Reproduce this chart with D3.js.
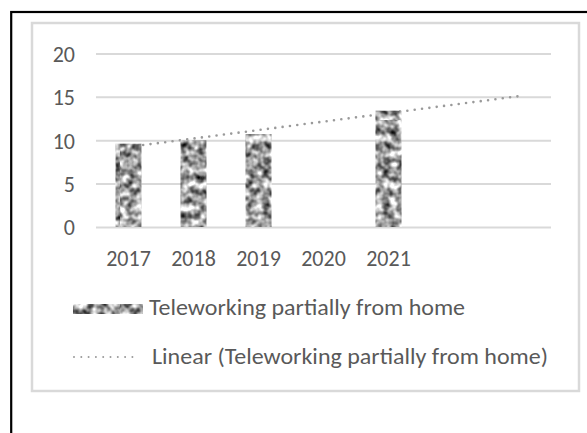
<!DOCTYPE html>
<html>
<head>
<meta charset="utf-8">
<script src="https://cdn.jsdelivr.net/npm/d3@7"></script>
<style>
  html, body { margin: 0; padding: 0; background: #fff; }
  svg { display: block; }
  text { font-family: Carlito, Lato, "Open Sans", sans-serif; fill: #595959; }
</style>
</head>
<body>
<svg id="chart" width="587" height="433"></svg>
<script>
// ---- data ----
const categories = ["2017", "2018", "2019", "2020", "2021"];
const values = [9.6, 10.0, 10.7, null, 13.4];
const forecastLabels = ["+1", "+2"];          // trendline forward forecast: 2 periods (no labels)
const yTicks = [0, 5, 10, 15, 20];
const seriesName = "Teleworking partially from home";
const trendName = "Linear (Teleworking partially from home)";

// ---- layout ----
const svg = d3.select("#chart");
const plot = { left: 96, right: 551, top: 53.4, bottom: 227 };
const fontSize = 22;

const defs = svg.append("defs");
const filt = defs.append("filter").attr("id", "noise")
  .attr("x", 0).attr("y", 0).attr("width", 1).attr("height", 1)
  .attr("color-interpolation-filters", "sRGB");
filt.append("feTurbulence").attr("type", "fractalNoise")
  .attr("baseFrequency", 0.13).attr("numOctaves", 2).attr("seed", 5).attr("result", "t");
filt.append("feColorMatrix").attr("in", "t").attr("type", "matrix")
  .attr("values", "1.6 0 0 0 -0.18  1.6 0 0 0 -0.18  1.6 0 0 0 -0.18  0 0 0 0 1");
const pat = defs.append("pattern").attr("id", "tex")
  .attr("patternUnits", "userSpaceOnUse").attr("width", 120).attr("height", 120);
pat.append("rect").attr("width", 120).attr("height", 120).attr("fill", "#aaa")
  .attr("filter", "url(#noise)");

// outer black frame (continues past right and bottom edges)
svg.append("rect").attr("x", 11.2).attr("y", 12).attr("width", 700).attr("height", 600)
  .attr("fill", "none").attr("stroke", "#000").attr("stroke-width", 2.2);

// chart area border
svg.append("rect").attr("x", 32).attr("y", 23).attr("width", 547).attr("height", 368)
  .attr("fill", "#fff").attr("stroke", "#d9d9d9").attr("stroke-width", 2.5);

// scales
const x = d3.scaleBand()
  .domain(categories.concat(forecastLabels))
  .range([plot.left, plot.right])
  .paddingInner(0.6).paddingOuter(0.3);
const y = d3.scaleLinear().domain([0, 20]).range([plot.bottom, plot.top]);

// gridlines + y labels
const yAxis = d3.axisLeft(y).tickValues(yTicks).tickSize(-(plot.right - plot.left)).tickPadding(21);
const gy = svg.append("g").attr("transform", `translate(${plot.left},0)`).call(yAxis);
gy.select(".domain").remove();
gy.selectAll(".tick line").attr("stroke", "#d9d9d9").attr("stroke-width", 2);
gy.selectAll(".tick text").attr("font-size", fontSize).attr("fill", "#595959")
  .attr("font-family", null).attr("dy", "0.36em");

// x labels
const xAxis = d3.axisBottom(x).tickValues(categories).tickSize(0).tickPadding(24);
const gx = svg.append("g").attr("transform", `translate(0,${plot.bottom})`).call(xAxis);
gx.select(".domain").remove();
gx.selectAll(".tick text").attr("font-size", fontSize).attr("fill", "#595959")
  .attr("font-family", null).attr("dy", "0.68em");

// linear trendline (least squares on non-empty points, x = 1..n), forecast forward
const pts = values.map((v, i) => ({ i: i + 1, v })).filter(d => d.v != null);
const mx = d3.mean(pts, d => d.i), my = d3.mean(pts, d => d.v);
const slope = d3.sum(pts, d => (d.i - mx) * (d.v - my)) / d3.sum(pts, d => (d.i - mx) ** 2);
const icpt = my - slope * mx;
const allCats = x.domain();
const trend = [allCats[0], allCats[allCats.length - 1]].map(c => {
  const i = allCats.indexOf(c) + 1;
  return { c, v: icpt + slope * i };
});
svg.append("path")
  .attr("d", d3.line().x(d => x(d.c) + x.bandwidth() / 2).y(d => y(d.v))(trend))
  .attr("fill", "none").attr("stroke", "#9a9a9a").attr("stroke-width", 2.6)
  .attr("stroke-linecap", "round").attr("stroke-dasharray", "0,7.4");

// bars
svg.append("g").selectAll("rect")
  .data(categories.map((c, i) => ({ c, v: values[i] })).filter(d => d.v != null))
  .join("rect")
  .attr("x", d => x(d.c)).attr("width", x.bandwidth())
  .attr("y", d => y(d.v)).attr("height", d => y(0) - y(d.v))
  .attr("fill", "url(#tex)");

// legend
const lg = svg.append("g");
const lx = 73, sw = 70, tx = 149;
const rows = [315, 364];
lg.append("rect").attr("x", lx).attr("y", rows[0] - 11).attr("width", sw).attr("height", 10)
  .attr("fill", "url(#tex)");
lg.append("text").attr("x", tx).attr("y", rows[0]).attr("font-size", fontSize)
  .attr("textLength", 316).attr("lengthAdjust", "spacingAndGlyphs").text(seriesName);
lg.append("line").attr("x1", lx + 1).attr("x2", lx + sw - 5)
  .attr("y1", rows[1] - 7).attr("y2", rows[1] - 7)
  .attr("stroke", "#9a9a9a").attr("stroke-width", 2).attr("stroke-linecap", "round")
  .attr("stroke-dasharray", "0,7.3");
lg.append("text").attr("x", tx + 3).attr("y", rows[1]).attr("font-size", fontSize)
  .attr("textLength", 396).attr("lengthAdjust", "spacingAndGlyphs").text(trendName);
</script>
</body>
</html>
